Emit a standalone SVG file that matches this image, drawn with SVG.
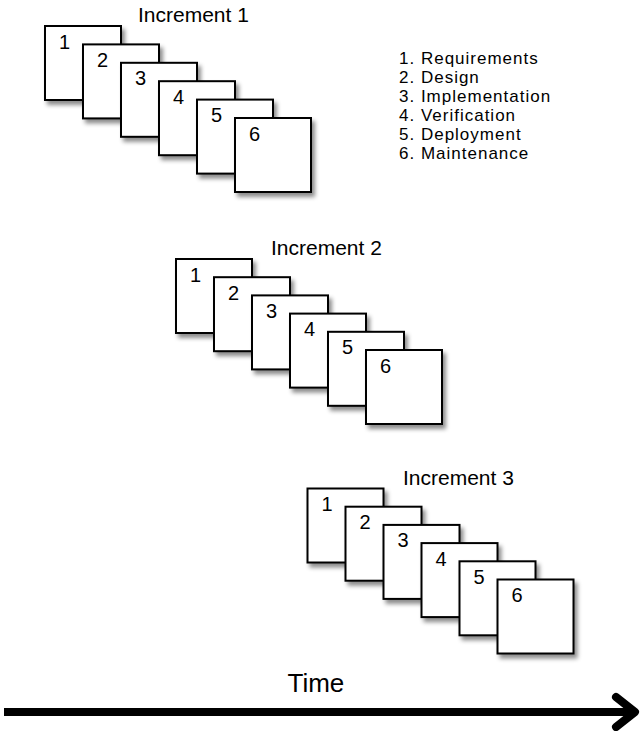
<svg xmlns="http://www.w3.org/2000/svg" width="640" height="731" viewBox="0 0 640 731">
  <defs>
    <filter id="shadow" x="-20%" y="-20%" width="150%" height="150%">
      <feDropShadow dx="3" dy="4" stdDeviation="2.2" flood-color="#000" flood-opacity="0.45"/>
    </filter>
  </defs>
  <style>
    .box { fill: #ffffff; stroke: #000000; stroke-width: 2; filter: url(#shadow); }
    .num { font-family: "Liberation Sans", Arial, sans-serif; font-size: 20px; fill: #000; }
    .title { font-family: "Liberation Sans", Arial, sans-serif; font-size: 21px; fill: #000; }
    .legend { font-family: "Liberation Sans", Arial, sans-serif; font-size: 17px; letter-spacing: 1px; fill: #000; }
    .time { font-family: "Liberation Sans", Arial, sans-serif; font-size: 26px; fill: #000; }
    .axis { fill: none; stroke: #000; stroke-width: 8; }
  </style>

  <!-- Increment 1 -->
  <g id="increment-1">
    <text class="title" x="138" y="22">Increment 1</text>
    <g id="inc1-step1"><rect class="box" x="45" y="26" width="76" height="74"/><text class="num" x="59" y="48.5">1</text></g>
    <g id="inc1-step2"><rect class="box" x="83" y="44.4" width="76" height="74"/><text class="num" x="97" y="66.9">2</text></g>
    <g id="inc1-step3"><rect class="box" x="121" y="62.8" width="76" height="74"/><text class="num" x="135" y="85.3">3</text></g>
    <g id="inc1-step4"><rect class="box" x="159" y="81.2" width="76" height="74"/><text class="num" x="173" y="103.7">4</text></g>
    <g id="inc1-step5"><rect class="box" x="197" y="99.6" width="76" height="74"/><text class="num" x="211" y="122.1">5</text></g>
    <g id="inc1-step6"><rect class="box" x="235" y="118" width="76" height="74"/><text class="num" x="249" y="140.5">6</text></g>
  </g>

  <!-- Legend -->
  <g id="legend">
    <text class="legend" x="399" y="63.5">1. Requirements</text>
    <text class="legend" x="399" y="82.5">2. Design</text>
    <text class="legend" x="399" y="101.5">3. Implementation</text>
    <text class="legend" x="399" y="120.5">4. Verification</text>
    <text class="legend" x="399" y="139.5">5. Deployment</text>
    <text class="legend" x="399" y="158.5">6. Maintenance</text>
  </g>

  <!-- Increment 2 -->
  <g id="increment-2">
    <text class="title" x="271" y="255">Increment 2</text>
    <g id="inc2-step1"><rect class="box" x="176" y="259" width="76" height="74"/><text class="num" x="190" y="281.5">1</text></g>
    <g id="inc2-step2"><rect class="box" x="214" y="277.2" width="76" height="74"/><text class="num" x="228" y="299.7">2</text></g>
    <g id="inc2-step3"><rect class="box" x="252" y="295.4" width="76" height="74"/><text class="num" x="266" y="317.9">3</text></g>
    <g id="inc2-step4"><rect class="box" x="290" y="313.6" width="76" height="74"/><text class="num" x="304" y="336.1">4</text></g>
    <g id="inc2-step5"><rect class="box" x="328" y="331.8" width="76" height="74"/><text class="num" x="342" y="354.3">5</text></g>
    <g id="inc2-step6"><rect class="box" x="366" y="350" width="76" height="74"/><text class="num" x="380" y="372.5">6</text></g>
  </g>

  <!-- Increment 3 -->
  <g id="increment-3">
    <text class="title" x="403" y="485">Increment 3</text>
    <g id="inc3-step1"><rect class="box" x="307.5" y="488.5" width="76" height="74"/><text class="num" x="321.5" y="511">1</text></g>
    <g id="inc3-step2"><rect class="box" x="345.5" y="506.7" width="76" height="74"/><text class="num" x="359.5" y="529.2">2</text></g>
    <g id="inc3-step3"><rect class="box" x="383.5" y="524.9" width="76" height="74"/><text class="num" x="397.5" y="547.4">3</text></g>
    <g id="inc3-step4"><rect class="box" x="421.5" y="543.1" width="76" height="74"/><text class="num" x="435.5" y="565.6">4</text></g>
    <g id="inc3-step5"><rect class="box" x="459.5" y="561.3" width="76" height="74"/><text class="num" x="473.5" y="583.8">5</text></g>
    <g id="inc3-step6"><rect class="box" x="497.5" y="579.5" width="76" height="74"/><text class="num" x="511.5" y="602">6</text></g>
  </g>

  <!-- Time axis -->
  <g id="time-label">
    <text class="time" x="287.5" y="692">Time</text>
  </g>
  <g id="connectors">
    <line class="axis" x1="4" y1="712" x2="634" y2="712"/>
    <polyline class="axis" points="616,697 635,712 616,727" stroke-linecap="round" stroke-linejoin="round"/>
  </g>
</svg>
